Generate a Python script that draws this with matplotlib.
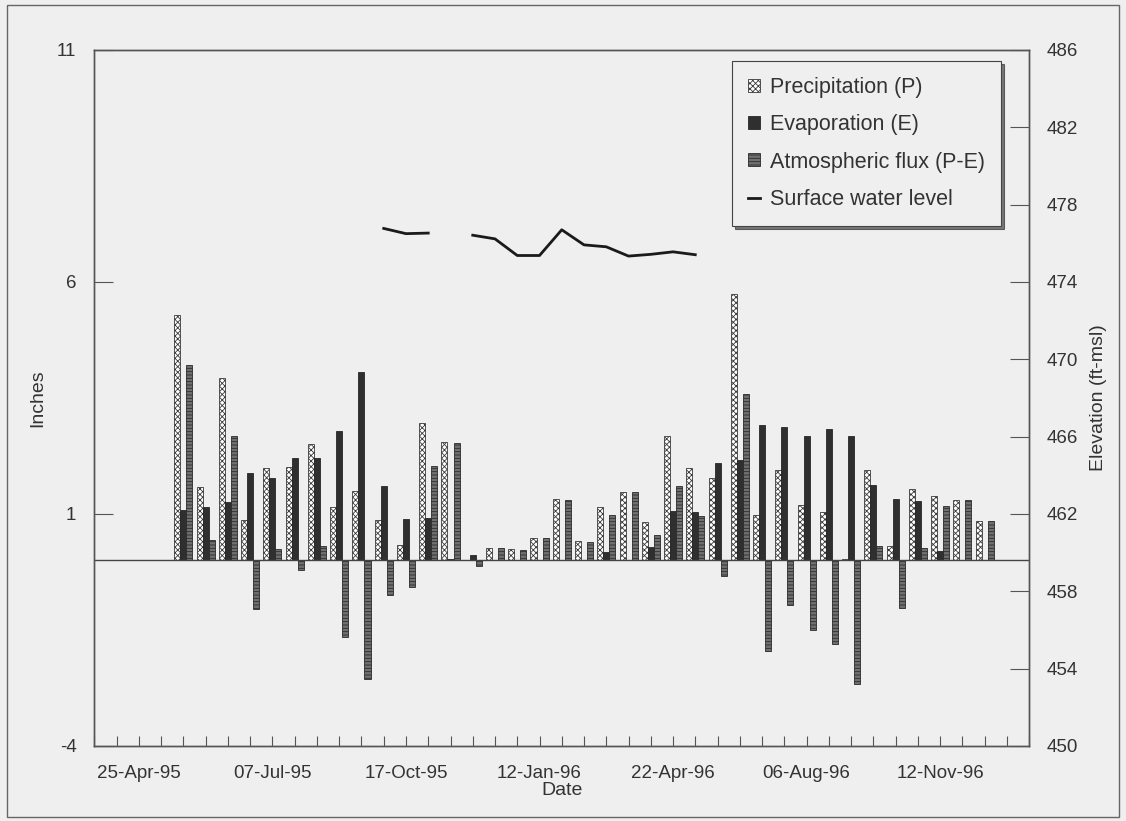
import numpy as np
import matplotlib
matplotlib.use("Agg")
import matplotlib.pyplot as plt
from matplotlib.patches import Patch, Rectangle
from matplotlib.lines import Line2D

plt.rcParams['font.family'] = ['Liberation Sans', 'DejaVu Sans']
plt.rcParams['hatch.linewidth'] = 0.6
plt.rcParams['axes.unicode_minus'] = False

# category axis: 43 sampling dates, labelled every 6th one
n_cats = 43
tick_labels = ['25-Apr-95', '07-Jul-95', '17-Oct-95', '12-Jan-96',
               '22-Apr-96', '06-Aug-96', '12-Nov-96']
label_cats = [2, 8, 14, 20, 26, 32, 38]

# bar series (inches), categories 4..40
bar_cats = list(range(4, 41))
precip = [5.28, 1.58, 3.93, 0.87, 2.00, 2.02, 2.51, 1.15, 1.49, 0.86,
          0.33, 2.95, 2.55, 0.00, 0.26, 0.24, 0.48, 1.32, 0.42, 1.15,
          1.47, 0.83, 2.69, 2.00, 1.78, 5.75, 0.97, 1.94, 1.19, 1.05,
          0.04, 1.94, 0.32, 1.54, 1.39, 1.31, 0.85]
evap = [1.08, 1.15, 1.26, 1.89, 1.77, 2.21, 2.20, 2.79, 4.06, 1.60,
        0.89, 0.91, 0.03, 0.12, 0.00, 0.00, 0.00, 0.00, 0.00, 0.17,
        0.00, 0.28, 1.07, 1.05, 2.10, 2.16, 2.91, 2.88, 2.68, 2.84,
        2.68, 1.62, 1.33, 1.29, 0.20, 0.00, 0.00]
flux = [4.21, 0.44, 2.68, -1.04, 0.24, -0.21, 0.31, -1.66, -2.56, -0.75,
        -0.57, 2.04, 2.52, -0.13, 0.26, 0.23, 0.48, 1.31, 0.40, 0.97,
        1.47, 0.54, 1.60, 0.95, -0.34, 3.59, -1.95, -0.96, -1.50, -1.81,
        -2.67, 0.30, -1.02, 0.26, 1.17, 1.31, 0.85]

# surface water level (ft-msl), categories 13..27
level_cats = list(range(13, 28))
level = [476.77, 476.50, 476.53, np.nan, 476.42, 476.23, 475.37, 475.37,
         476.70, 475.92, 475.82, 475.34, 475.43, 475.56, 475.41]

bg = '#efefef'
txt = '#333333'

fig = plt.figure(figsize=(11.26, 8.21), dpi=100, facecolor=bg)
ax = fig.add_axes([0.0839, 0.0914, 0.8300, 0.8477], facecolor=bg)
ax2 = ax.twinx()

x = np.array(bar_cats)
w = 0.27
p_style = dict(facecolor='white', edgecolor='#3a3a3a', hatch='xxxxxx', linewidth=0.6)
e_style = dict(facecolor='#2f2f2f', edgecolor='#262626', linewidth=0.6)
f_style = dict(facecolor='#707070', edgecolor='#2a2a2a', hatch='-----', linewidth=0.6)

ax.bar(x - w, precip, w, **p_style)
ax.bar(x, evap, w, **e_style)
ax.bar(x + w, flux, w, **f_style)
ax.axhline(0, color='#444444', lw=1.0, zorder=1)

ax2.plot(level_cats, level, color='#1a1a1a', lw=2.0)

ax.set_xlim(0, n_cats - 1)
ax.set_ylim(-4, 11)
ax.set_yticks([-4, 1, 6, 11])
ax2.set_ylim(450, 486)
ax2.set_yticks(np.arange(450, 487, 4))

ax.set_xticks(range(n_cats))
lab = [''] * n_cats
for c, t in zip(label_cats, tick_labels):
    lab[c] = t
ax.set_xticklabels(lab)

ax.tick_params(axis='x', direction='in', length=7, width=0.8, color='#555555',
               labelsize=13.5, labelcolor=txt, pad=14)
ax.tick_params(axis='y', direction='in', length=14, width=0.8, color='#555555',
               labelsize=13.5, labelcolor=txt, pad=13)
ax2.tick_params(axis='y', direction='in', length=14, width=0.8, color='#555555',
                labelsize=13.5, labelcolor=txt, pad=13)

for a in (ax, ax2):
    for s in a.spines.values():
        s.set_color('#555555')
        s.set_linewidth(1.0)

ax.set_xlabel('Date', fontsize=14, color=txt, labelpad=0)
ax.set_ylabel('Inches', fontsize=14, color=txt, labelpad=8)
ax2.set_ylabel('Elevation (ft-msl)', fontsize=14, color=txt, labelpad=8)

handles = [Patch(**p_style), Patch(**e_style), Patch(**f_style),
           Line2D([], [], color='#1a1a1a', lw=2.0)]
names = ['Precipitation (P)', 'Evaporation (E)', 'Atmospheric flux (P-E)',
         'Surface water level']
leg = ax2.legend(handles, names, loc='upper right', bbox_to_anchor=(0.97, 0.984),
                 fontsize=15.5, frameon=True, fancybox=False, shadow={'color': 'black'},
                 handlelength=0.55, handleheight=0.55, handletextpad=0.45,
                 labelspacing=0.75, borderpad=0.75, borderaxespad=0,
                 labelcolor=txt)
leg.get_frame().set_facecolor(bg)
leg.get_frame().set_edgecolor('#444444')
leg.get_frame().set_linewidth(0.8)
leg.get_frame().set_alpha(1)

# outer chart border
fig.patches.append(Rectangle((7 / 1126, 4 / 821), 1112 / 1126, 812 / 821,
                             transform=fig.transFigure, fill=False,
                             edgecolor='#666666', lw=1.0))

fig.savefig('out.png', dpi=100, facecolor=bg)
